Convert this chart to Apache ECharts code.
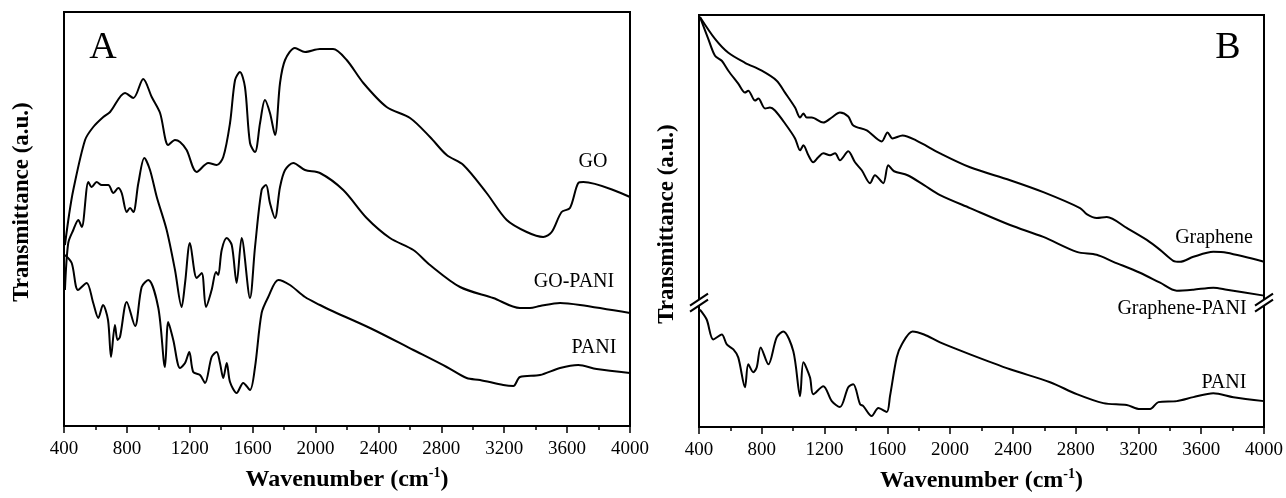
<!DOCTYPE html>
<html>
<head>
<meta charset="utf-8">
<script src="https://cdn.jsdelivr.net/npm/echarts@6/dist/echarts.min.js"></script>
<style>
html,body{margin:0;padding:0;background:#fff}
#chart{width:1286px;height:498px}
</style>
</head>
<body>
<div id="chart"></div>
<script>
// ---- panel A (wavenumber cm-1 / transmittance a.u.) ----
var goWn = [406,432,459,534,586,650,693,788,841,904,958,1011,1063,1106,1138,1180,1244,1318,1371,1413,1456,1488,1519,1551,1583,1615,1647,1678,1710,1742,1774,1806,1869,1933,2028,2111,2198,2304,2452,2601,2728,2834,2940,3088,3216,3343,3448,3502,3565,3618,3671,3703,4000];
var goT  = [181,211,236,286,299,309,314,333,328,347,329,313,281,286,284,276,254,263,261,269,303,346,354,339,283,274,303,326,313,291,343,366,378,374,377,377,366,343,319,308,289,271,261,233,206,194,189,194,214,218,243,244,229];

var goPaniWn = [406,427,459,491,513,555,576,608,640,682,714,745,767,799,820,841,873,911,947,990,1053,1106,1148,1170,1201,1244,1276,1303,1339,1367,1381,1403,1435,1467,1498,1530,1583,1615,1657,1685,1710,1742,1774,1806,1858,1933,2028,2176,2325,2473,2622,2728,2919,3130,3300,3364,3427,3555,3682,4000];
var goPaniT  = [136,183,196,206,199,244,239,244,241,241,233,238,233,214,218,214,243,268,256,229,196,156,119,143,183,148,153,119,136,154,151,176,188,181,143,188,128,179,236,241,223,208,239,256,263,256,253,236,208,188,176,161,139,128,118,118,120,123,121,113];

var paniAWn = [406,449,489,544,586,618,648,680,699,724,740,756,799,852,894,936,1000,1042,1063,1095,1138,1170,1197,1222,1265,1297,1339,1371,1392,1413,1435,1456,1498,1540,1583,1615,1657,1699,1763,1837,1933,2028,2092,2346,2622,2834,2961,3046,3194,3258,3300,3427,3555,3671,3788,4000];
var paniAT  = [171,163,136,143,123,108,121,106,69,101,86,89,124,100,139,146,118,59,104,86,58,63,74,54,51,43,69,74,63,48,63,44,33,43,36,59,113,129,146,141,129,121,116,98,76,59,48,46,41,40,49,51,58,61,57,53];

// ---- panel B ----
var grWn = [406,502,587,693,800,895,948,1012,1044,1065,1086,1118,1192,1246,1298,1351,1383,1469,1564,1601,1633,1697,1783,1936,2127,2382,2594,2828,2870,2934,2998,3125,3253,3338,3422,3465,3550,3677,3763,4000];
var grT  = [412,390,376,366,358,348,336,321,311,315,311,311,306,311,316,312,303,298,287,296,290,293,288,275,261,248,236,220,214,210,211,200,188,178,167,166,171,176,175,166];

var grPaniWn = [406,459,502,545,587,650,693,714,757,778,821,852,884,948,1012,1044,1065,1097,1128,1160,1192,1235,1267,1298,1351,1394,1437,1490,1521,1574,1606,1643,1729,1834,1936,2127,2382,2594,2807,2934,3040,3210,3338,3444,3550,3677,3763,4000];
var grPaniT  = [412,390,373,368,358,345,336,338,328,330,320,321,318,305,290,278,283,273,266,271,275,273,275,268,277,266,258,245,253,245,263,257,253,243,233,220,203,191,176,173,166,155,145,137,138,140,138,132];

var paniBWn = [406,449,491,545,577,619,650,693,714,746,768,793,842,895,937,1001,1044,1065,1107,1128,1192,1246,1298,1351,1383,1426,1447,1500,1543,1596,1617,1660,1692,1760,1834,1936,2127,2382,2637,2807,2976,3125,3210,3274,3327,3444,3550,3677,3805,4000];
var paniBT  = [118,108,88,93,83,78,70,40,63,55,60,80,63,90,96,76,31,65,50,33,41,26,20,40,43,23,21,11,19,15,31,70,83,96,93,85,73,58,45,33,24,22,18,18,25,26,30,34,30,26];

var xTicks = [400,800,1200,1600,2000,2400,2800,3200,3600,4000];
var breakT = 125;   // y value where panel B axis is broken

function pairs(wn, t){
    return wn.map(function(w,i){ return [w, t[i]]; });
}

var font = '"Liberation Serif", "Times New Roman", serif';

function xAxisFor(idx){
    return {
        type:'value', gridIndex:idx,
        min:xTicks[0], max:xTicks[xTicks.length-1], interval:400,
        axisLine:{show:true, onZero:false, lineStyle:{color:'#000', width:2}},
        axisTick:{show:true, length:7, lineStyle:{color:'#000', width:1.5}},
        minorTick:{show:true, splitNumber:2, length:4, lineStyle:{color:'#000', width:1.5}},
        axisLabel:{color:'#000', fontFamily:font, fontSize:19, margin:14,
                   formatter:function(v){ return String(v); }},
        splitLine:{show:false},
        name:'{t|Wavenumber (cm}{s|-1}{t|)}',
        nameLocation:'middle', nameGap:40,
        nameTextStyle:{
            rich:{
                t:{fontFamily:font, fontSize:24, fontWeight:'bold', color:'#000', lineHeight:28},
                s:{fontFamily:font, fontSize:14, fontWeight:'bold', color:'#000', verticalAlign:'top', lineHeight:28}
            }
        }
    };
}
function yAxisFor(idx){
    return {
        type:'value', gridIndex:idx, min:0, max:414,
        axisLine:{show:true, onZero:false, lineStyle:{color:'#000', width:2}},
        axisTick:{show:false}, axisLabel:{show:false}, splitLine:{show:false}
    };
}
function line(name, idx, data){
    return {
        name:name, type:'line', xAxisIndex:idx, yAxisIndex:idx,
        data:data, showSymbol:false, smooth:0.3,
        lineStyle:{color:'#000', width:2}, silent:true, animation:false
    };
}

var chart = echarts.init(document.getElementById('chart'));

var option = {
    backgroundColor:'#fff',
    animation:false,
    grid:[
        {left:64, top:12, width:566, height:414, show:true, borderColor:'#000', borderWidth:2},
        {left:699, top:15, width:565, height:414, show:true, borderColor:'#000', borderWidth:2}
    ],
    xAxis:[xAxisFor(0), xAxisFor(1)],
    yAxis:[yAxisFor(0), yAxisFor(1)],
    series:[
        line('GO', 0, pairs(goWn, goT)),
        line('GO-PANI', 0, pairs(goPaniWn, goPaniT)),
        line('PANI', 0, pairs(paniAWn, paniAT)),
        line('Graphene', 1, pairs(grWn, grT)),
        line('Graphene-PANI', 1, pairs(grPaniWn, grPaniT)),
        line('PANI', 1, pairs(paniBWn, paniBT))
    ]
};
chart.setOption(option);

function txt(x, y, s, size, bold, rot){
    return {
        type:'text', x:x, y:y, rotation:rot || 0, z:100, silent:true,
        style:{text:s, fill:'#000', font:(bold ? 'bold ' : '') + size + 'px ' + font,
               textAlign:'center', textVerticalAlign:'middle'}
    };
}

// break marks on panel B axes
var bl = chart.convertToPixel({xAxisIndex:1, yAxisIndex:1}, [xTicks[0], breakT]);
var br = chart.convertToPixel({xAxisIndex:1, yAxisIndex:1}, [xTicks[xTicks.length-1], breakT]);
function breakMark(p){
    var x = p[0], y = p[1];
    return [
        {type:'rect', z:100, silent:true, shape:{x:x-3, y:y-3, width:6, height:6}, style:{fill:'#fff'}},
        {type:'line', z:101, silent:true, shape:{x1:x-9, y1:y+3, x2:x+9, y2:y-9}, style:{stroke:'#000', lineWidth:2}},
        {type:'line', z:101, silent:true, shape:{x1:x-9, y1:y+9, x2:x+9, y2:y-3}, style:{stroke:'#000', lineWidth:2}}
    ];
}

chart.setOption({
    graphic:[].concat(
        [
            txt(103, 48, 'A', 38, false),
            txt(1228, 48, 'B', 38, false),
            txt(593, 162, 'GO', 20, false),
            txt(574, 282, 'GO-PANI', 20, false),
            txt(594, 348, 'PANI', 20, false),
            txt(1214, 238, 'Graphene', 20, false),
            txt(1182, 309, 'Graphene-PANI', 20, false),
            txt(1224, 383, 'PANI', 20, false),
            txt(22, 202, 'Transmittance (a.u.)', 23, true, Math.PI/2),
            txt(667, 224, 'Transmittance (a.u.)', 23, true, Math.PI/2)
        ],
        breakMark(bl), breakMark(br)
    )
});
</script>
</body>
</html>
